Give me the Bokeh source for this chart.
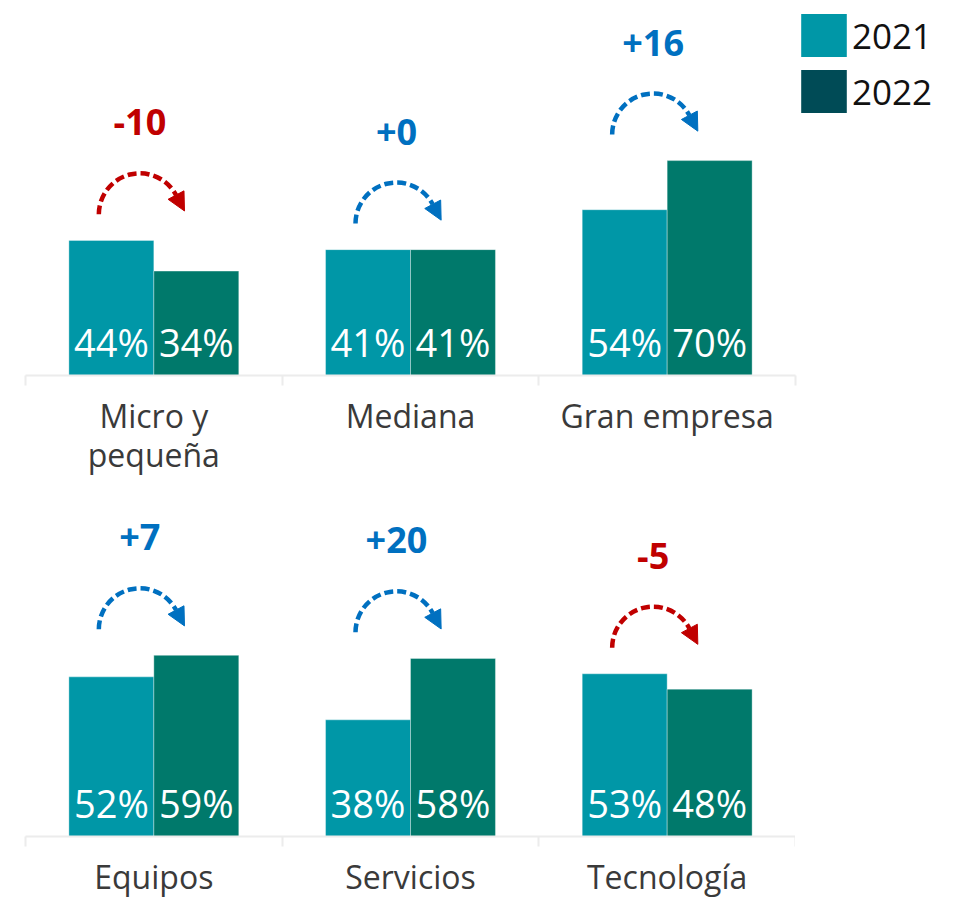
import math
from bokeh.plotting import figure
from bokeh.models import (ColumnDataSource, FixedTicker, Legend, LegendItem,
                          Arrow, NormalHead, Range1d)
from bokeh.layouts import column
from bokeh.embed import file_html
from bokeh.resources import INLINE
from bokeh.core.properties import value

# ---- data ----
categories = ["Micro y\npequeña", "Mediana", "Gran empresa",
              "Equipos", "Servicios", "Tecnología"]
v2021 = [44, 41, 54, 52, 38, 53]
v2022 = [34, 41, 70, 59, 58, 48]
series = ["2021", "2022"]
panels = [[0, 1, 2], [3, 4, 5]]

# ---- style ----
C21 = "#0097a7"
C22 = "#00796b"
C22_LEG = "#004b56"
RED = "#c00000"
BLUE = "#0070c0"
FONT = "Open Sans"
AXIS_C = "#ececec"

FW = 770              # frame width (px)
PX_PCT = 3.07         # px per percentage point
BAR_W = 0.331
ARC_R = 41            # px
ARC_END = math.radians(28)
HEAD = 18             # px


def make_panel(idx, frame_h, mb_top, mb_bottom, with_legend):
    n = len(idx)
    px_x = FW / n
    ymax = frame_h / PX_PCT
    p = figure(frame_width=FW, frame_height=frame_h,
               x_range=Range1d(0, n), y_range=Range1d(0, ymax),
               output_backend="svg", toolbar_location=None,
               y_axis_location=None,
               min_border_left=25, min_border_top=mb_top,
               min_border_bottom=mb_bottom, min_border_right=0)
    p.xgrid.visible = False
    p.ygrid.visible = False
    p.outline_line_color = None
    p.background_fill_color = None
    p.border_fill_color = None

    cats = [categories[i] for i in idx]
    a = [v2021[i] for i in idx]
    b = [v2022[i] for i in idx]
    xs = [k + 0.5 for k in range(n)]

    src = ColumnDataSource(dict(
        x21=[x - BAR_W / 2 for x in xs], x22=[x + BAR_W / 2 for x in xs],
        a=a, b=b, la=[f"{v}%" for v in a], lb=[f"{v}%" for v in b],
        ly=[34 / PX_PCT] * n))
    p.vbar(x="x21", top="a", width=BAR_W, source=src, fill_color=C21,
           line_color="white", line_alpha=0.35, line_width=1)
    p.vbar(x="x22", top="b", width=BAR_W, source=src, fill_color=C22,
           line_color="white", line_alpha=0.35, line_width=1)
    for xcol, tcol in (("x21", "la"), ("x22", "lb")):
        p.text(x=xcol, y="ly", text=tcol, source=src,
               text_font=value(FONT), text_font_size="38px",
               text_color="white", text_align="center",
               text_baseline="middle")

    # change arrows
    deltas = [bb - aa for aa, bb in zip(a, b)]
    cols = [RED if d < 0 else BLUE for d in deltas]
    cx = [x - 14 / px_x for x in xs]
    cy = [max(aa, bb) + 8.5 for aa, bb in zip(a, b)]
    asrc = ColumnDataSource(dict(
        cx=cx, cy=cy, col=cols,
        txt=[f"{d:+d}" for d in deltas],
        ty=[y + 92 / PX_PCT for y in cy]))
    p.arc(x="cx", y="cy", radius=ARC_R, radius_units="screen",
          start_angle=math.pi, end_angle=ARC_END, direction="clock",
          line_color="col", line_width=4.5, line_dash="9 4", source=asrc)
    p.text(x="cx", y="ty", text="txt", text_color="col", source=asrc,
           text_font=value(FONT), text_font_style="bold",
           text_font_size="36px", text_align="center",
           text_baseline="middle")
    ex_px = ARC_R * math.cos(ARC_END)
    ey_px = ARC_R * math.sin(ARC_END)
    tx_px = math.sin(ARC_END)
    ty_px = -math.cos(ARC_END)
    for x0, y0, c in zip(cx, cy, cols):
        xs0 = x0 + ex_px / px_x
        ys0 = y0 + ey_px / PX_PCT
        xe = xs0 + HEAD * tx_px / px_x
        ye = ys0 + HEAD * ty_px / PX_PCT
        p.add_layout(Arrow(end=NormalHead(size=HEAD, fill_color=c,
                                          line_color=c, line_width=1),
                           x_start=xs0, y_start=ys0, x_end=xe, y_end=ye,
                           line_color=c, line_width=1))

    ax = p.xaxis[0]
    ax.ticker = FixedTicker(ticks=xs, minor_ticks=list(range(n + 1)))
    ax.major_label_overrides = {x: c for x, c in zip(xs, cats)}
    ax.bounds = (0, n)
    ax.axis_line_color = AXIS_C
    ax.axis_line_width = 2
    ax.major_tick_out = 0
    ax.major_tick_in = 0
    ax.major_tick_line_color = None
    ax.minor_tick_out = 10
    ax.minor_tick_in = 0
    ax.minor_tick_line_color = AXIS_C
    ax.minor_tick_line_width = 2
    ax.major_label_text_font = FONT
    ax.major_label_text_font_size = "32px"
    ax.major_label_text_line_height = 0.93
    ax.major_label_text_color = "#3a3a3a"
    ax.major_label_standoff = 8

    if with_legend:
        # zero-height bars only feed the legend swatches
        r1 = p.vbar(x="x21", top=0, bottom=0, width=BAR_W, source=src,
                    fill_color=C21, line_color=None)
        r2 = p.vbar(x="x22", top=0, bottom=0, width=BAR_W, source=src,
                    fill_color=C22_LEG, line_color=None)
        leg = Legend(items=[LegendItem(label=series[0], renderers=[r1]),
                            LegendItem(label=series[1], renderers=[r2])],
                     margin=0, padding=0, glyph_width=57, glyph_height=54,
                     spacing=2, label_standoff=0,
                     label_text_font=FONT, label_text_font_size="35px",
                     label_text_color="#111111",
                     border_line_color=None, background_fill_alpha=0,
                     location="top_left")
        p.add_layout(leg, "right")
    return p


top = make_panel(panels[0], 367, 8, 105, True)
bottom = make_panel(panels[1], 356, 0, 60, False)
layout = column(top, bottom, spacing=0)

open("out.html", "w").write(file_html(layout, INLINE))
